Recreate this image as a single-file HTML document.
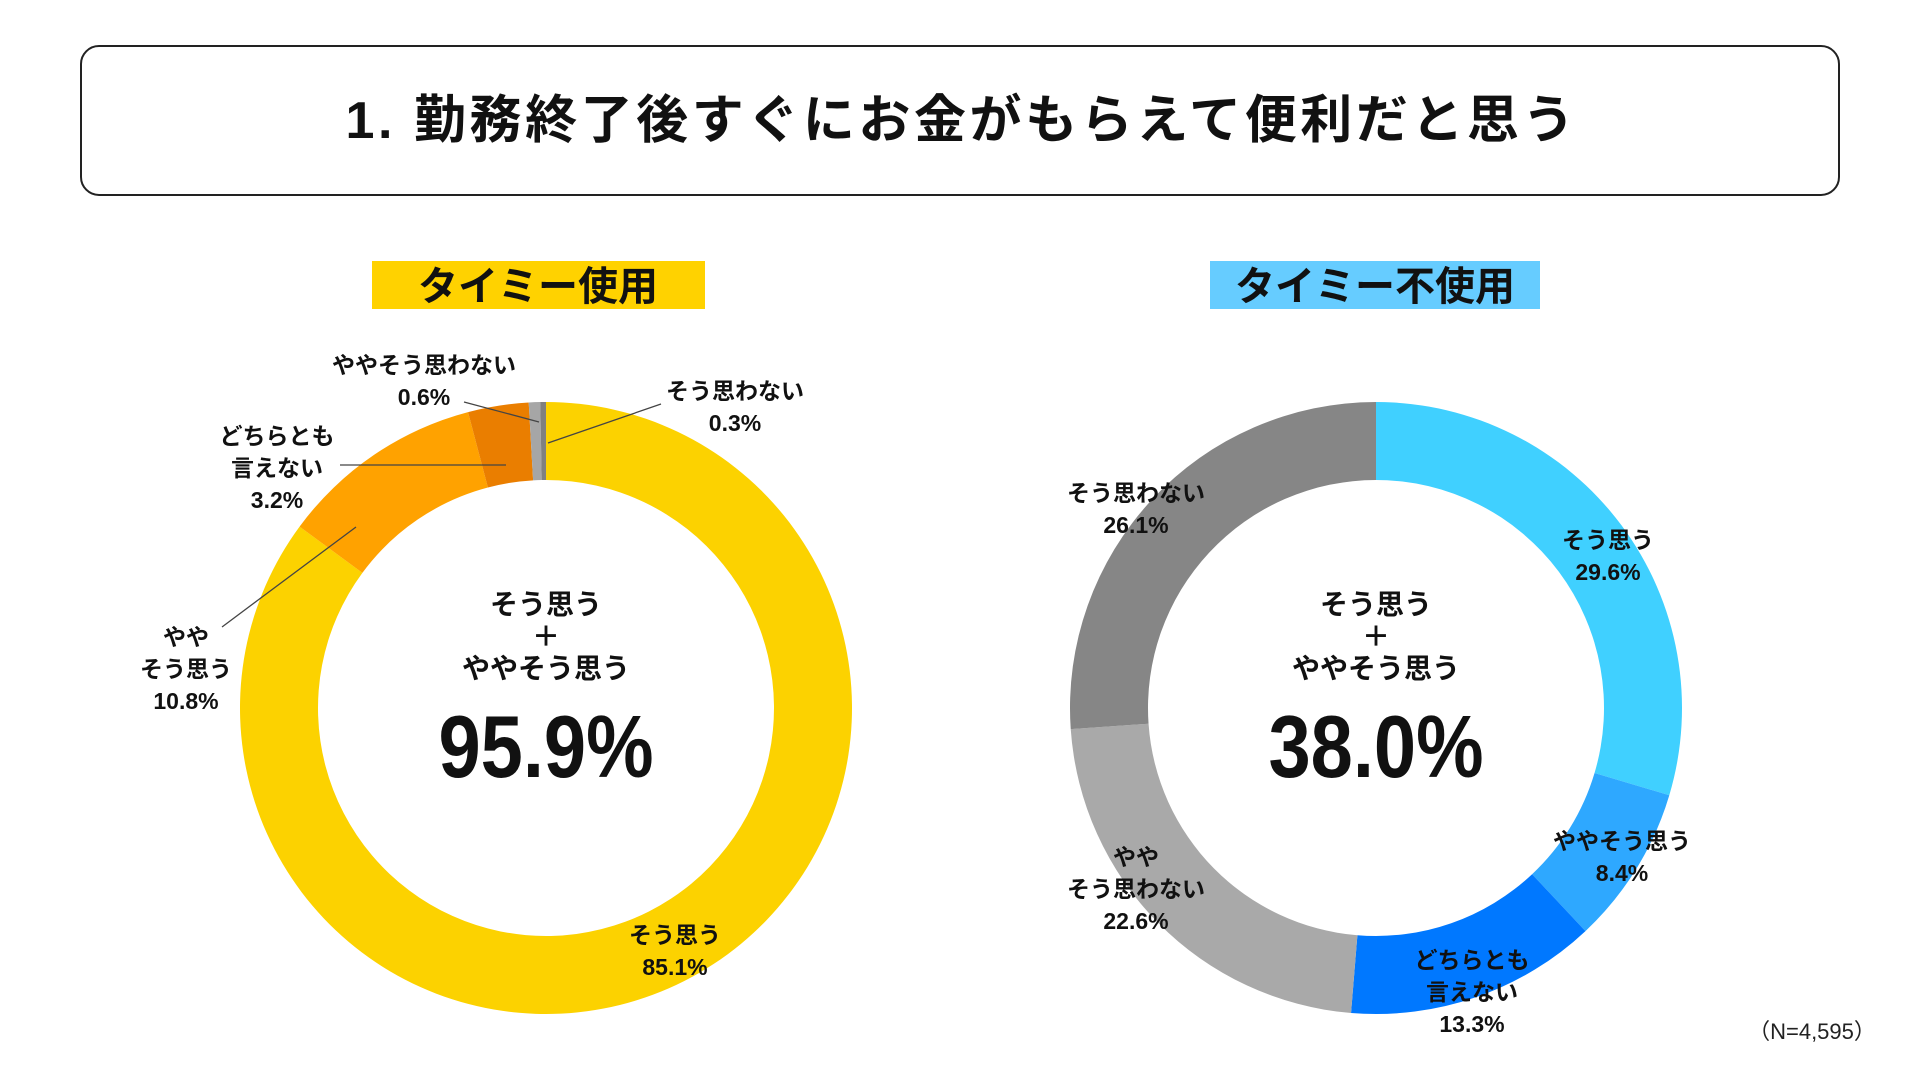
<!DOCTYPE html>
<html><head><meta charset="utf-8"><style>
html,body{margin:0;padding:0;background:#fff;}
svg{display:block;font-family:"Liberation Sans","Noto Sans CJK JP",sans-serif;}
.lbl{font-size:23px;font-weight:bold;fill:#111;text-anchor:middle;}
.ctr{font-size:28px;font-weight:bold;fill:#111;text-anchor:middle;}
</style></head><body>
<svg id="chart" width="1920" height="1080" viewBox="0 0 1920 1080">
<rect x="81" y="46" width="1758" height="149" rx="18" fill="#fff" stroke="#222" stroke-width="2"/>
<text x="960" y="138" text-anchor="middle" font-size="52" font-weight="bold" fill="#111" textLength="1229" lengthAdjust="spacing">1. 勤務終了後すぐにお金がもらえて便利だと思う</text>
<rect x="372" y="261" width="333" height="48" fill="#FFD200"/>
<text x="538" y="300" text-anchor="middle" font-size="40" font-weight="bold" fill="#111">タイミー使用</text>
<rect x="1210" y="261" width="330" height="48" fill="#66CCFF"/>
<text x="1375" y="300" text-anchor="middle" font-size="40" font-weight="bold" fill="#111">タイミー不使用</text>
<g id="left"></g>
<g id="right"></g>
<text x="1812" y="1039" text-anchor="middle" font-size="22" fill="#222">（N=4,595）</text>
</svg>
<script>
const categories = ["そう思う","ややそう思う","どちらとも言えない","ややそう思わない","そう思わない"];
const usedValues = [85.1, 10.8, 3.2, 0.6, 0.3];
const notUsedValues = [29.6, 8.4, 13.3, 22.6, 26.1];
const usedColors = ["#FCD200","#FFA200","#EA7E00","#A6A6A6","#808080"];
const notUsedColors = ["#40D0FF","#2EA8FF","#0078FF","#A9A9A9","#868686"];
const usedTotal = "95.9%";
const notUsedTotal = "38.0%";
const NS = "http://www.w3.org/2000/svg";
const R_OUT = 306, R_IN = 228;
function ang(pct){ return pct/100*2*Math.PI; }
function pt(cx,cy,r,a){ return [cx + r*Math.sin(a), cy - r*Math.cos(a)]; }
function drawDonut(g, cx, cy, values, colors, prefix){
  const tot = values.reduce((s,v)=>s+v,0);
  let cum = 0;
  values.forEach((v,i)=>{
    const a0 = ang(cum/tot*100), a1 = ang((cum+v)/tot*100);
    cum += v;
    const large = (a1-a0) > Math.PI ? 1 : 0;
    const p1 = pt(cx,cy,R_OUT,a0), p2 = pt(cx,cy,R_OUT,a1), p3 = pt(cx,cy,R_IN,a1), p4 = pt(cx,cy,R_IN,a0);
    const d = `M${p1[0]},${p1[1]} A${R_OUT},${R_OUT} 0 ${large} 1 ${p2[0]},${p2[1]} L${p3[0]},${p3[1]} A${R_IN},${R_IN} 0 ${large} 0 ${p4[0]},${p4[1]} Z`;
    const path = document.createElementNS(NS,"path");
    path.setAttribute("d", d);
    path.setAttribute("fill", colors[i]);
    
    
    g.appendChild(path);
  });
}
function addText(g, x, y, lines, cls, name){
  lines.forEach((t,k)=>{
    const el = document.createElementNS(NS,"text");
    el.setAttribute("x", x); el.setAttribute("y", y + k*32);
    el.setAttribute("class", cls);
    el.textContent = t;
    
    
    g.appendChild(el);
  });
}
function addLine(g, x1,y1,x2,y2,name){
  const l = document.createElementNS(NS,"line");
  l.setAttribute("x1",x1);l.setAttribute("y1",y1);l.setAttribute("x2",x2);l.setAttribute("y2",y2);
  l.setAttribute("stroke","#444");l.setAttribute("stroke-width","1.3");
  
  
  g.appendChild(l);
}
const gl = document.getElementById("left"), gr = document.getElementById("right");
drawDonut(gl, 546, 708, usedValues, usedColors, "used");
drawDonut(gr, 1376, 708, notUsedValues, notUsedColors, "not-used");
addLine(gl, 464,402, 539,422, "leader-line-slightly-disagree");
addLine(gl, 661,404, 548,443, "leader-line-disagree");
addLine(gl, 340,465, 506,465, "leader-line-neutral");
addLine(gl, 222,627, 356,527, "leader-line-slightly-agree");
addText(gl, 424, 373, ["ややそう思わない", usedValues[3]+"%"], "lbl", "label-used-slightly-disagree");
addText(gl, 735, 399, ["そう思わない", usedValues[4]+"%"], "lbl", "label-used-disagree");
addText(gl, 277, 444, ["どちらとも","言えない", usedValues[2]+"%"], "lbl", "label-used-neutral");
addText(gl, 186, 645, ["やや","そう思う", usedValues[1]+"%"], "lbl", "label-used-slightly-agree");
addText(gl, 675, 943, ["そう思う", usedValues[0]+"%"], "lbl", "label-used-agree");
addText(gr, 1608, 548, ["そう思う", notUsedValues[0]+"%"], "lbl", "label-notused-agree");
addText(gr, 1622, 849, ["ややそう思う", notUsedValues[1]+"%"], "lbl", "label-notused-slightly-agree");
addText(gr, 1472, 968, ["どちらとも","言えない", notUsedValues[2]+"%"], "lbl", "label-notused-neutral");
addText(gr, 1136, 865, ["やや","そう思わない", notUsedValues[3]+"%"], "lbl", "label-notused-slightly-disagree");
addText(gr, 1136, 501, ["そう思わない", notUsedValues[4]+"%"], "lbl", "label-notused-disagree");
[[gl,546,usedTotal,"used"],[gr,1376,notUsedTotal,"not-used"]].forEach(([g,cx,t,p])=>{
  addText(g, cx, 614, ["そう思う","＋","ややそう思う"], "ctr", p+"-center-caption");
  const el = document.createElementNS(NS,"text");
  el.setAttribute("x", cx); el.setAttribute("y", 777);
  el.setAttribute("text-anchor","middle");
  el.setAttribute("font-size","88");
  el.setAttribute("font-weight","bold");
  el.setAttribute("fill","#111");
  el.setAttribute("textLength","215");
  el.setAttribute("lengthAdjust","spacingAndGlyphs");
  el.textContent = t;
  
  
  g.appendChild(el);
});
</script>
</body></html>
